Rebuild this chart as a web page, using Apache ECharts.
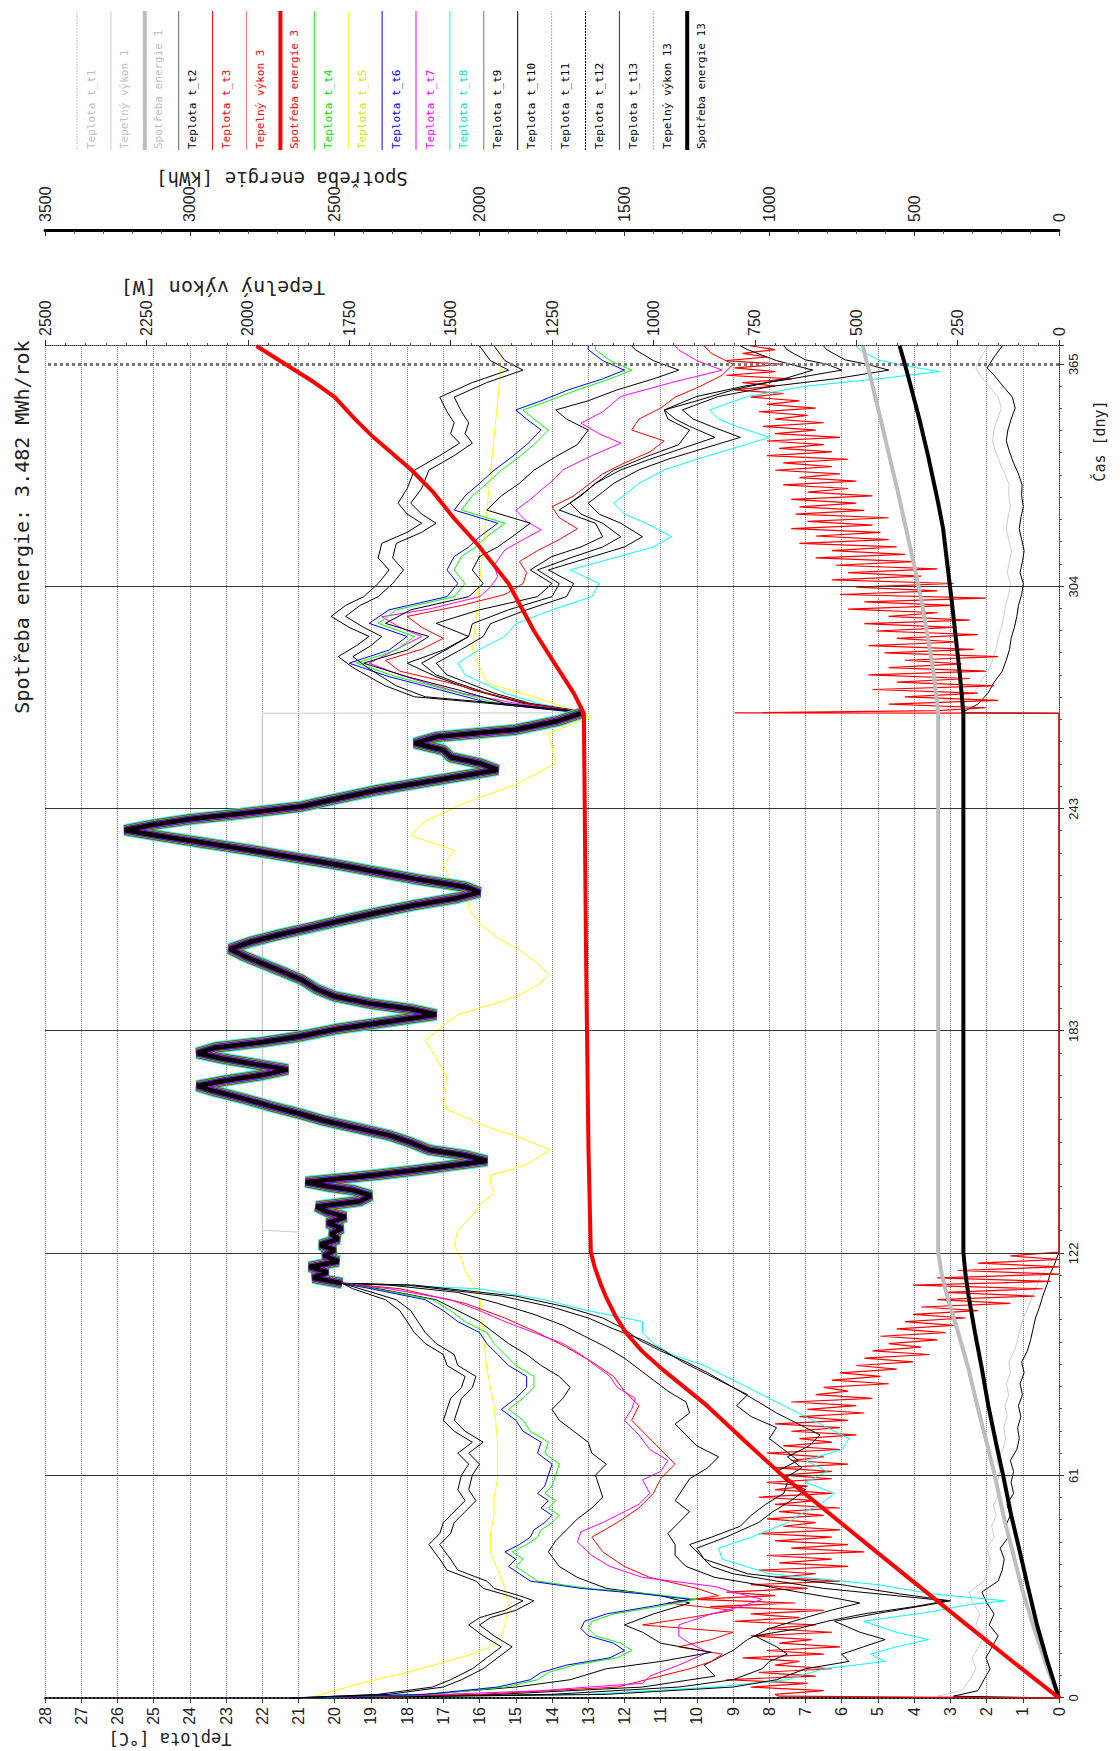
<!DOCTYPE html>
<html><head><meta charset="utf-8">
<script src="https://cdn.jsdelivr.net/npm/echarts@6/dist/echarts.min.js"></script>
<style>
html,body{margin:0;padding:0;background:#fff;overflow:hidden;width:1120px;height:1751px;}
#chart{position:absolute;left:0;top:0;width:1751px;height:1120px;transform-origin:0 0;transform:translate(0,1751px) rotate(-90deg);background:#fff;}
</style></head><body><div id="chart"></div>
<script>
// ---------------- DATA (day, value) ----------------
const timeTickLabels = ['0','61','122','183','243','304','365'];
const tempTicks = [0,28];
const powerRange = [0,2500];
const energyRange = [0,3500];
const titleText = 'Spotřeba energie: 3.482 MWh/rok';

// common summer course of all node temperatures (°C)
const summerBand = [[113.5,19.8],[115,20.6],[116.5,20.2],[118,20.7],[119.5,19.9],[121,20.3],[122.6,20.0],[124,20.4],[125.6,19.9],[127,20.1],[128.5,19.8],[130,20.2],[131.7,19.7],[133,20.2],[134.5,20.5],[136,19.3],[137.5,19.0],[139,19.5],[140,20.2],[141.2,20.8],[142.2,19.8],[143.2,18.8],[144.5,17.7],[145.7,16.8],[147,15.8],[148.5,16.4],[150,17.4],[152,17.9],[154,18.5],[156,19.4],[158,20.3],[160,21.0],[162,21.8],[164,22.5],[166,23.3],[167.5,23.8],[169,23.0],[170.5,22.0],[172,21.3],[173.5,22.2],[175,23.1],[176.5,23.8],[178,23.3],[179.5,22.0],[181,21.0],[183,20.0],[185,18.6],[187,17.2],[188.5,17.9],[190,19.0],[192,20.0],[194,20.5],[196.5,20.9],[199,21.5],[201,22.0],[203,22.5],[205,22.9],[207,22.3],[209,21.5],[211,20.6],[213,19.7],[215,18.8],[217,17.8],[219,16.6],[220.5,16.0],[222,16.4],[224,17.7],[226,18.8],[228,19.9],[230,21.1],[232,22.3],[234,23.6],[236,24.9],[237.5,25.8],[239,25.0],[240.5,24.0],[242,22.6],[244,20.9],[246,20.0],[248.5,18.8],[250.5,17.6],[252.5,16.4],[254,15.5],[255.8,16.0],[257.5,16.8],[259.4,17.0],[261.3,17.8],[263,17.2],[265,15.0],[267.5,13.8],[269.5,13.2]];

const t2Winter = [[0,21.2],[1,18.8],[3,17.3],[5,16.8],[8,16.2],[11,15.8],[14,15.4],[17,15.9],[20,16.3],[22,16.0],[24,15.3],[26.6,14.8],[28,15.2],[30,15.9],[32,16.1],[35,16.9],[38,17.1],[42,17.4],[45,17.1],[48,17.0],[51,16.7],[54,16.4],[57,16.6],[61,16.5],[64,16.3],[67,16.6],[70,16.2],[73,16.7],[76,17.0],[79,16.9],[82,16.8],[85,16.5],[88,16.4],[91,16.9],[94,17.0],[97,17.5],[100,17.8],[103,18.0],[106,18.2],[109,18.6],[112,19.5]];
const t2Autumn = [[270,13.4],[272,15.5],[274,17.8],[277,18.6],[279.5,19.05],[282,19.5],[285,19.9],[288,19.4],[290.5,19.05],[293,19.6],[296,20.1],[299,19.7],[301.4,19.2],[305,18.8],[308.7,18.5],[312,18.8],[316,18.7],[319,18.0],[321.5,17.6],[324,18.0],[327,18.25],[331,18.0],[336,17.8],[340,17.1],[343.4,16.55],[346,16.8],[349,16.7],[352,16.9],[356,17.1],[360,16.2],[363.4,15.2],[366,15.7],[370,16.0]];

const t9Winter = [[0,21.2],[1,18.5],[3,17.0],[5,16.5],[8,15.9],[11,15.5],[14,15.1],[17,15.6],[20,16.0],[22,15.7],[24,15.0],[26.6,14.5],[28,14.9],[30,15.6],[32,15.8],[35,16.6],[38,16.8],[42,17.1],[45,16.8],[48,16.7],[51,16.4],[54,16.1],[57,16.3],[61,16.2],[64,16.0],[67,16.3],[70,15.9],[73,16.4],[76,16.7],[79,16.6],[82,16.5],[85,16.2],[88,16.1],[91,16.6],[94,16.7],[97,17.2],[100,17.5],[103,17.7],[106,17.9],[109,18.3],[112,19.3]];
const t9Autumn = [[270,13.3],[272,15.2],[274,17.5],[277,18.3],[279.5,18.7],[282,19.1],[285,19.5],[288,19.0],[290.5,18.7],[293,19.2],[296,19.7],[299,19.3],[301.4,18.8],[305,18.4],[308.7,18.1],[312,18.4],[316,18.3],[319,17.6],[321.5,17.2],[324,17.6],[327,17.9],[331,17.6],[336,17.4],[340,16.7],[343.4,16.2],[346,16.4],[349,16.3],[352,16.5],[356,16.7],[360,15.8],[363.4,14.8],[366,15.3],[370,15.6]];

const t6Winter = [[0,21.0],[1,17.5],[3,15.5],[5,14.6],[7,14.3],[9,13.6],[11,12.4],[13,12.0],[15,12.3],[17,13.0],[19,13.2],[21,13.1],[23,12.5],[25,11.3],[27,10.2],[28.5,11.5],[30,13.2],[32,14.6],[34,14.9],[36,15.2],[38,15.0],[40,15.3],[42,14.9],[44,14.6],[46,14.5],[48,14.2],[50,14.0],[52,14.3],[54,14.1],[56,14.4],[58,14.2],[61,14.1],[64,14.0],[67,14.4],[70,14.3],[73,14.8],[76,15.0],[79,15.4],[82,15.0],[85,14.7],[88,14.7],[91,15.2],[94,15.5],[97,15.8],[100,16.0],[103,16.6],[106,17.0],[109,17.5],[112,19.0]];
const t6Autumn = [[270,13.6],[272.2,15.7],[275.9,17.1],[279.5,18.5],[283.2,19.6],[286.8,18.5],[290.5,18.0],[294.1,19.05],[297.8,18.5],[301.4,16.9],[305,16.6],[308.7,16.9],[312.4,16.7],[315,16.3],[317.8,16.0],[321.5,15.5],[325.1,16.7],[329,16.4],[332.4,16.0],[336,15.6],[339.7,15.1],[343,14.7],[347,14.3],[350,14.7],[352.5,15.0],[355,14.3],[358,13.55],[361,12.6],[363.4,12.0],[366,12.6],[369,13.0],[370,13.0]];

const t4Winter = [[0,21.0],[1,17.3],[3,15.3],[5,14.4],[7,14.1],[9,13.4],[11,12.2],[13,11.8],[15,12.1],[17,12.8],[19,13.0],[21,12.9],[23,12.3],[25,11.1],[27,10.0],[28.5,11.3],[30,13.0],[32,14.4],[34,14.7],[36,15.0],[38,14.8],[40,15.1],[42,14.7],[44,14.4],[46,14.3],[48,14.0],[50,13.8],[52,14.1],[54,13.9],[56,14.2],[58,14.0],[61,13.9],[64,13.8],[67,14.2],[70,14.1],[73,14.6],[76,14.8],[79,15.2],[82,14.8],[85,14.5],[88,14.5],[91,15.0],[94,15.3],[97,15.6],[100,15.8],[103,16.4],[106,16.8],[109,17.3],[112,18.9]];
const t4Autumn = [[270,13.5],[272.2,15.5],[275.9,16.9],[279.5,18.3],[283.2,19.4],[286.8,18.3],[290.5,17.8],[294.1,18.8],[297.8,18.3],[301.4,16.7],[305,16.4],[308.7,16.7],[312.4,16.5],[315,16.1],[317.8,15.8],[321.5,15.3],[325.1,16.5],[329,16.2],[332.4,15.8],[336,15.4],[339.7,14.9],[343,14.5],[347,14.1],[350,14.5],[352.5,14.8],[355,14.1],[358,13.3],[361,12.4],[363.4,11.8],[366,12.4],[369,12.8],[370,12.8]];

const t7Winter = [[0,21.0],[1,17.0],[2,14.3],[3,13.0],[4,11.5],[6,11.3],[9,10.5],[12.5,9.7],[15,10.2],[17,10.5],[20,10.5],[23,9.6],[25,8.8],[27,8.2],[29,9.0],[30.5,9.5],[33,11.5],[36,12.4],[39,12.9],[42.7,13.3],[45.5,13.2],[48,12.6],[51,12.0],[53,11.6],[56,11.3],[59.7,11.5],[62,11.0],[65,10.8],[68,11.3],[72,11.6],[76,12.0],[79,11.8],[82,11.7],[85,12.2],[88,12.4],[91,12.8],[94,13.2],[97,13.7],[100,14.5],[103,15.3],[106,16.0],[109,16.8],[112,18.5]];
const t7Autumn = [[270,13.4],[272.2,15.0],[275,16.5],[277.7,17.45],[280,18.2],[283.2,19.05],[287,18.3],[290.5,17.6],[293,18.2],[295.9,18.7],[298,17.4],[301.4,16.0],[304,15.7],[306.9,15.5],[310,15.6],[314.2,15.3],[317,14.8],[319.7,14.3],[322,14.7],[325.1,15.0],[328,14.6],[330.6,14.3],[333,14.0],[336.1,13.7],[340,12.9],[343.4,12.1],[346,12.7],[348.9,13.2],[352,12.6],[356.2,12.1],[360,10.7],[363.4,9.3],[366,10.0],[368.9,10.5],[370,10.6]];

const t10Winter = [[0,21.0],[1,17.5],[3,15.0],[5,13.5],[8,12.5],[10,11.0],[12.5,9.6],[15,11.0],[18,11.5],[20,12.0],[23,11.2],[26,10.2],[28,11.0],[30,12.5],[33,13.3],[36,13.8],[40,14.1],[43,13.9],[46,13.6],[49,13.3],[52,12.9],[55,12.6],[58,12.7],[61,12.8],[64,12.5],[67,12.9],[70,13.0],[73,13.4],[76,13.8],[79,14.0],[82,13.7],[85,13.5],[88,13.8],[91,14.3],[94,14.7],[97,15.2],[100,15.6],[103,16.0],[106,16.6],[109,17.2],[112,18.8]];
const t10Autumn = [[270,13.4],[272.2,15.3],[275.9,16.6],[279.5,18.0],[283.2,19.2],[286.8,18.0],[290.5,17.4],[294.1,18.6],[297.8,17.9],[301.4,16.3],[305,15.9],[308.7,16.2],[312.4,16.0],[315,15.5],[317.8,15.1],[321.5,14.6],[325.1,15.8],[329,15.4],[332.4,14.9],[336,14.5],[339.7,13.9],[343,13.3],[347,13.0],[350,13.6],[352.5,13.9],[355,13.0],[358,12.2],[361,11.2],[363.4,10.5],[366,11.2],[369,11.7],[370,11.8]];

const t3Winter = [[0,21],[1,16],[3,12.2],[6,11.0],[8,10.2],[10,9.6],[12,9.3],[14,10.5],[16,9.6],[18,9.0],[20,11.5],[22,10.2],[24,9.0],[26,10.8],[28,9.4],[30,10.0],[33,11.3],[36,12.0],[40,12.6],[44,12.9],[48,12.2],[52,11.6],[56,11.2],[60,11.0],[64,10.6],[68,11.0],[72,11.4],[76,11.8],[80,11.6],[84,12.0],[88,12.3],[92,12.9],[96,13.6],[100,14.4],[104,15.3],[108,16.4],[112,18.2]];
const t3Autumn = [[270,13.2],[272,14.6],[275,15.8],[278,16.9],[281,18.2],[284,18.6],[287,17.6],[290,17.0],[293,17.6],[296,18.0],[299,16.5],[302,15.3],[305,14.8],[308,14.7],[311,14.9],[314,14.4],[317,13.8],[320,13.3],[323,13.8],[326,14.0],[329,13.4],[332,13.0],[335,12.6],[338,12.0],[341,11.3],[344,10.9],[347,11.8],[350,11.6],[353,11.0],[356,10.6],[359,9.9],[362,9.3],[365,9.0],[368,9.6],[370,9.8]];

const t11Winter = [[0,21],[1,15.5],[3,11.5],[6,9.5],[9,9.8],[11,9.4],[13,9.0],[16,8.6],[19,8.0],[22,7.0],[24,6.3],[26,5.5],[27,6.0],[29,7.2],[31,8.3],[33,9.5],[36,10.3],[39,10.6],[42,10.6],[45,10.8],[48,10.5],[51,10.2],[54,10.6],[57,10.4],[60,10.2],[63,9.7],[66,9.4],[69,10.0],[72,10.3],[75,10.6],[78,10.2],[81,10.3],[84,10.8],[87,11.2],[90,11.6],[93,12.0],[96,12.5],[99,13.1],[102,13.7],[105,14.5],[108,15.5],[111,16.6],[113,18.5]];
const t11Autumn = [[270,13.3],[272.2,14.8],[275.9,16.2],[279.5,17.2],[283.2,18.0],[286.8,17.0],[290.5,16.3],[294.1,17.2],[297.8,16.0],[301.4,14.4],[305,14.0],[308.7,14.6],[312.4,14.0],[315,13.2],[317.8,12.6],[321.5,12.8],[325.1,13.8],[329,13.2],[332.4,12.8],[336,12.3],[339.7,11.4],[343,10.5],[347,10.2],[350,10.8],[352.5,10.9],[355,10.0],[358,9.0],[361,7.6],[363.4,6.8],[366,7.8],[369,8.6],[370,8.8]];

const t12Winter = [[0,21],[1,14],[3,10.5],[5,9.0],[8,8.2],[10,8.0],[12,7.5],[14,7.8],[17,8.4],[19,7.2],[21,6.4],[23,5.4],[25,4.0],[26.6,3.1],[28,4.5],[30,6.5],[32,7.8],[34,9.0],[36,9.6],[39,9.9],[42,10.2],[44,9.6],[47,8.8],[50,8.5],[53,8.1],[56,7.6],[59,7.5],[62,7.8],[65,7.2],[68,7.6],[71,8.0],[74,7.8],[77,8.5],[80,8.9],[83,8.6],[86,9.2],[89,9.8],[92,10.4],[95,10.9],[98,11.5],[101,12.3],[104,13.0],[107,14.0],[110,15.4],[113,18.0]];
const t12Autumn = [[270,13.2],[272.2,14.6],[275,15.6],[277.7,16.3],[280,16.9],[283.2,17.2],[287,16.5],[290.5,15.9],[294,15.7],[297.8,14.7],[301.4,13.6],[305,13.4],[308.7,14.1],[312,13.0],[315,12.0],[317.8,11.5],[321.5,12.1],[324,12.7],[327,13.0],[330,12.6],[332.4,12.3],[336.1,11.6],[339,10.8],[342,9.8],[345,8.8],[348,9.6],[350,10.1],[352.5,10.4],[356.2,9.4],[359,7.9],[361,6.2],[363.4,4.7],[365,5.3],[366.2,5.9],[368.9,6.4],[370,6.5]];

const t13Winter = [[0,21],[1,12.5],[3,9.0],[5,7.8],[8,7.0],[10,5.8],[12,6.0],[14,5.4],[16,4.8],[18,5.5],[21,6.2],[23.5,4.8],[25.5,3.6],[26.6,3.0],[28.5,4.4],[31,6.0],[34,8.6],[38,9.8],[41,10.0],[44,9.2],[48,8.3],[51,7.9],[54,7.4],[57,7.0],[60,7.6],[63,7.1],[66,7.5],[69,6.9],[72,6.6],[75,7.2],[78,7.8],[81,8.3],[85,9.0],[89,9.7],[92,10.3],[95,11.0],[98,11.6],[101,12.0],[104,12.6],[107,13.6],[110,15.0],[113,17.8]];
const t13Autumn = [[270,13.2],[272.2,14.7],[275,15.8],[277.7,16.6],[280,17.2],[283.2,17.6],[287,16.9],[290.5,16.3],[294,16.2],[297.8,15.2],[301.4,14.0],[305,13.8],[308.7,14.4],[312,13.5],[315,12.6],[317.8,12.1],[321.5,12.6],[324,13.2],[327,13.5],[330,13.1],[332.4,12.8],[336.1,12.1],[339,11.3],[342,10.4],[345,9.5],[348,10.2],[350,10.6],[352.5,10.9],[356.2,10.0],[359,8.7],[361,7.4],[363.4,6.0],[365,6.4],[366.2,7.0],[368.9,7.5],[370,7.6]];

const t8Winter = [[0,21],[1,13],[3,9.5],[5,7.5],[8,6.5],[10,4.8],[12,5.2],[14,4.5],[16,3.6],[18,4.5],[21,5.4],[23.5,3.6],[25.5,2.5],[26.6,1.5],[28.5,3.5],[31,5.0],[34,8.0],[38,9.3],[41,9.4],[44,8.5],[48,7.5],[50,7.2],[53,6.6],[56,6.2],[59,7.0],[62,6.4],[65,7.0],[68,6.0],[71,5.8],[74,6.4],[77,7.0],[80,7.6],[84,8.4],[88,9.2],[91,9.8],[94,10.7],[97,11.2],[100,11.5],[103,11.5],[106,13.0],[109,14.2],[112,16.0]];
const t8Autumn = [[270,13.2],[272.2,14.4],[275,15.3],[277.7,15.9],[280,16.4],[283.2,16.6],[287,16.0],[290.5,15.3],[294,15.0],[297.8,14.0],[301.4,12.9],[305,12.7],[308.7,13.5],[312,12.3],[315,11.2],[317.8,10.7],[321.5,11.4],[324,12.0],[327,12.3],[330,11.9],[332.4,11.6],[336.1,10.9],[339,10.0],[342,9.0],[345,8.0],[348,8.9],[350,9.4],[352.5,9.65],[356.2,8.6],[359,7.0],[361,5.0],[363,3.3],[364.5,4.2],[366.2,5.0],[368.9,5.5],[370,5.6]];

const t5Winter = [[0,20.7],[2,20.0],[4,19.3],[7,18.0],[10,16.9],[12,16.2],[14,15.7],[17,15.4],[20,15.3],[25,15.2],[30,15.3],[35,15.5],[40,15.7],[45,15.7],[50,15.6],[55,15.6],[60,15.5],[70,15.5],[80,15.6],[90,15.8],[100,15.9],[110,16.0]];
const t5Summer = [[113.5,16.2],[117,16.4],[120,16.5],[124,16.7],[128,16.6],[132,16.2],[135,16.0],[138,15.6],[141,15.7],[143,15.7],[146,14.7],[150,14.05],[153,14.8],[156,15.7],[161,16.9],[165,17.0],[170,16.9],[175,17.2],[180,17.5],[184,17.0],[187,16.6],[190,15.6],[192,15.0],[195,14.4],[198,14.1],[201,14.4],[204,14.8],[208,15.5],[212,16.0],[216,16.3],[220,16.3],[224,16.8],[228,17.0],[232,16.7],[236,17.9],[240,17.5],[245,16.4],[250,15.0],[255.8,13.9],[260,14.0],[264,14.1],[268.6,12.9]];
const t5Autumn = [[273,14.2],[277.7,15.8],[286.8,16.2],[295,16.1],[305,16.0],[315,15.9],[325,15.8],[335,15.7],[345,15.6],[355,15.5],[365,15.4],[370,15.4]];

const t1Summer = [[127.5,21.0],[128,22.0],[269.5,22.0],[269.6,13.4]];

// heating power (W)
const power1 = [[0,0],[0.5,300],[2,240],[5,220],[8,205],[11,214],[14,198],[17,185],[20,205],[23,195],[26,212],[29,222],[32,185],[35,176],[38,170],[41,178],[44,160],[47,166],[50,155],[53,162],[56,146],[59,152],[62,146],[65,153],[68,138],[71,132],[74,136],[77,128],[80,133],[83,124],[86,130],[89,120],[92,124],[95,110],[98,102],[101,95],[104,88],[107,76],[110,66],[113,54],[116,42],[119,24],[122,0],[269.5,0],[269.6,280],[272,236],[275,210],[278,194],[281,175],[284,164],[287,156],[290,150],[293,142],[296,136],[299,132],[302,124],[305,120],[308,128],[311,122],[314,117],[317,124],[320,130],[323,126],[326,120],[329,124],[332,123],[335,133],[338,146],[341,156],[344,164],[347,160],[350,152],[353,142],[356,150],[359,172],[362,195],[364,205],[367,192],[370,175]];
const power13 = [[0,0],[0.5,260],[2,200],[5,185],[8,170],[11,180],[14,165],[17,150],[20,172],[23,160],[26,178],[29,190],[32,150],[35,140],[38,135],[41,145],[44,125],[47,132],[50,120],[53,128],[56,112],[59,118],[62,112],[65,120],[68,104],[71,98],[74,102],[77,94],[80,100],[83,90],[86,96],[89,86],[92,92],[95,78],[98,70],[101,64],[104,58],[107,48],[110,40],[113,30],[116,22],[119,10],[122,0],[269.5,0],[269.6,240],[272,200],[275,175],[278,160],[281,140],[284,130],[287,122],[290,118],[293,110],[296,104],[299,100],[302,92],[305,88],[308,96],[311,90],[314,86],[317,92],[320,98],[323,94],[326,88],[329,92],[332,91],[335,100],[338,112],[341,122],[344,130],[347,126],[350,118],[353,108],[356,115],[359,138],[362,160],[364,177],[367,160],[370,140]];
// power 3, one reading per day: days 1..122 and 271..370
const power3WinterDaily = [700,580,760,620,820,600,740,560,700,640,780,580,720,540,690,610,760,560,720,600,800,640,760,580,860,650,900,700,820,620,760,540,700,600,740,520,690,560,720,480,660,520,700,560,740,540,680,600,720,580,690,540,700,600,740,560,700,620,720,560,680,560,700,520,660,580,720,540,680,560,640,500,660,540,700,520,640,480,620,500,660,460,600,520,580,420,560,440,540,400,500,360,480,320,460,340,420,300,440,280,400,260,380,230,360,200,340,120,300,60,280,40,360,20,300,0,250,0,200,0,120,0];
const power3AutumnDaily = [180,420,150,380,200,460,160,400,220,470,180,420,240,380,150,430,210,470,250,400,200,450,260,480,220,420,300,520,260,480,180,540,300,500,260,560,340,520,300,550,360,600,380,560,400,640,420,600,440,660,460,620,420,650,480,640,500,660,460,620,520,680,500,640,540,700,560,680,520,720,560,690,580,720,540,700,600,730,580,700,620,740,600,720,640,760,680,800,700,780,660,820,700,800,680,820,720,780,700,760];

// cumulative energy (kWh)
const energy1 = [[0,0],[5,25],[10,48],[20,90],[30,128],[40,160],[50,192],[61,222],[70,250],[80,282],[90,312],[100,348],[110,386],[116,405],[122,417],[269.5,417],[280,432],[290,452],[300,474],[310,500],[320,528],[330,556],[340,586],[350,616],[360,646],[365,662],[370,677]];
const energy3 = [[0,0],[10,160],[20,318],[30,474],[40,630],[50,785],[61,956],[70,1080],[80,1215],[90,1370],[95,1440],[100,1495],[104.4,1530],[110,1565],[113.5,1583],[118,1603],[122,1616],[150,1624],[200,1632],[269.5,1640],[275,1675],[283,1740],[292,1812],[305,1900],[316,2010],[323,2090],[330,2160],[336,2234],[345,2366],[350,2430],[356,2500],[360,2570],[365,2670],[370,2770]];
const energy13 = [[0,0],[5,20],[10,40],[20,76],[30,106],[40,135],[50,165],[61,193],[70,218],[80,244],[90,266],[100,290],[110,312],[116,323],[122,330],[269.5,330],[280,342],[290,356],[300,370],[310,385],[320,400],[327,417],[330,425],[340,452],[350,482],[360,515],[365,532],[370,550]];

const legendNames = ['Teplota t_t1','Tepelný výkon 1','Spotřeba energie 1','Teplota t_t2','Teplota t_t3','Tepelný výkon 3','Spotřeba energie 3','Teplota t_t4','Teplota t_t5','Teplota t_t6','Teplota t_t7','Teplota t_t8','Teplota t_t9','Teplota t_t10','Teplota t_t11','Teplota t_t12','Teplota t_t13','Tepelný výkon 13','Spotřeba energie 13'];

// ---------------- BUILD ----------------
const join = (w, a) => w.concat(summerBand, a);
const power3 = [[0,0],[0.5,690]].concat(power3WinterDaily.map((v,i)=>[i+1,v]), [[269.5,0],[269.6,800],[270.2,300]], power3AutumnDaily.map((v,i)=>[271+i,v]));

const STY = {
 'Teplota t_t1':{c:'#c8c8c8',w:1,t:'#bdbdbd',d:[2,1]},
 'Tepelný výkon 1':{c:'#cdcdcd',w:1,t:'#c0c0c0'},
 'Spotřeba energie 1':{c:'#bdbdbd',w:4,t:'#bdbdbd'},
 'Teplota t_t2':{c:'#000',w:1,t:'#000',lc:'#666'},
 'Teplota t_t3':{c:'#ff0000',w:1,t:'#ff0000'},
 'Tepelný výkon 3':{c:'#ff0000',w:1,t:'#ff0000',lc:'#ff8080'},
 'Spotřeba energie 3':{c:'#ff0000',w:4,t:'#ff0000'},
 'Teplota t_t4':{c:'#00ff00',w:1,t:'#00dd00'},
 'Teplota t_t5':{c:'#ffff00',w:1,t:'#e0e000'},
 'Teplota t_t6':{c:'#0000ff',w:1,t:'#0000ff'},
 'Teplota t_t7':{c:'#ff00ff',w:1,t:'#ff00ff'},
 'Teplota t_t8':{c:'#00ffff',w:1,t:'#00dede'},
 'Teplota t_t9':{c:'#000',w:1,t:'#000',lc:'#777'},
 'Teplota t_t10':{c:'#000',w:1,t:'#000'},
 'Teplota t_t11':{c:'#000',w:1,t:'#000',lc:'#aaa',d:[2,1]},
 'Teplota t_t12':{c:'#000',w:1,t:'#000',d:[2,1]},
 'Teplota t_t13':{c:'#000',w:1,t:'#000',lc:'#333'},
 'Tepelný výkon 13':{c:'#000',w:1,t:'#000',lc:'#aaa',d:[2,1]},
 'Spotřeba energie 13':{c:'#000',w:4,t:'#000'}
};

function line(name, data, yIdx, z, widthOverride){
  const s = STY[name] || {};
  return {type:'line', name, data, xAxisIndex:0, yAxisIndex:yIdx, showSymbol:false, symbol:'none', silent:true, animation:false, z:z,
    lineStyle:{color:s.c, width: widthOverride || s.w}, itemStyle:{color:s.c}, emphasis:{disabled:true}};
}

const series = [];
const TIME_STEP = 365/6;
const gridDays = [1,2,3,4,5].map(k=>k*TIME_STEP);
series.push({type:'line', data:[], xAxisIndex:0, yAxisIndex:0, silent:true, z:1,
  markLine:{silent:true, symbol:['none','none'], label:{show:false}, animation:false,
    data: gridDays.map(d=>({xAxis:d, lineStyle:{color:'#333', width:1, type:'solid'}})).concat([{xAxis:6*TIME_STEP, lineStyle:{color:'#777', width:3, type:'dotted'}}])}});

series.push(line('Teplota t_t5', t5Winter.concat(t5Summer, t5Autumn), 0, 3));
series.push(line('Teplota t_t1', t1Summer, 0, 3));
series.push(line('Tepelný výkon 1', power1, 1, 3));
series.push(line('Tepelný výkon 13', power13, 1, 3));
series.push(line('Tepelný výkon 3', power3, 1, 3, 1.2));
series.push(line('Teplota t_t8', join(t8Winter, t8Autumn), 0, 4));
series.push(line('Teplota t_t13', join(t13Winter, t13Autumn), 0, 4));
series.push(line('Teplota t_t12', join(t12Winter, t12Autumn), 0, 4));
series.push(line('Teplota t_t11', join(t11Winter, t11Autumn), 0, 4));
series.push(line('Teplota t_t3', join(t3Winter, t3Autumn), 0, 4));
series.push(line('Teplota t_t7', join(t7Winter, t7Autumn), 0, 4));
series.push(line('Teplota t_t10', join(t10Winter, t10Autumn), 0, 4));
series.push(line('Teplota t_t4', join(t4Winter, t4Autumn), 0, 4));
series.push(line('Teplota t_t6', join(t6Winter, t6Autumn), 0, 4));
series.push(line('Teplota t_t9', join(t9Winter, t9Autumn), 0, 4));
series.push(line('Teplota t_t2', join(t2Winter, t2Autumn), 0, 4));
// overlapping summer course of the node temperatures (stacked widths show the coloured fringes)
[['Teplota t_t8',12],['Teplota t_t3',10],['Teplota t_t4',8.5],['Teplota t_t6',7],['Teplota t_t7',6],['Teplota t_t2',4.8]].forEach(([n,w])=>{
  series.push(line(n, summerBand, 0, 5, w));
});
series.push(line('Spotřeba energie 1', energy1, 2, 6));
series.push(line('Spotřeba energie 13', energy13, 2, 6));
series.push(line('Spotřeba energie 3', energy3, 2, 7));

// ---------------- LAYOUT (original orientation, page is rotated) ----------------
const W = 1751, H = 1120;
const G = {left:53, right:346, top:45, bottom:61};
const FONT = '"Liberation Sans", Arial, sans-serif';
const MONO = '"DejaVu Sans Mono", monospace';
const graphic = [];
const txt = (text, x, y, font, rot, align) => ({type:'text', x, y, rotation:rot||0, silent:true,
  style:{text, font, fill:'#222', align:align||'center', verticalAlign:'middle', textAlign:align||'center', textVerticalAlign:'middle'}});
graphic.push(txt(titleText, 1224, 22, '20px '+MONO));
graphic.push(txt('Tepelný výkon [W]', 1463, 223, '20px '+MONO, Math.PI/2));
graphic.push(txt('Spotřeba energie [kWh]', 1572, 282, '19px '+MONO, Math.PI/2));
graphic.push(txt('Teplota [°C]', 12, 170, '17px '+MONO, Math.PI/2));
graphic.push(txt('Čas [dny]', 1310, 1100, '15px '+MONO));
legendNames.forEach((n,i)=>{
  const s = STY[n]; const v = 77 + 33.9*i;
  graphic.push({type:'line', silent:true, shape:{x1:1601,y1:v,x2:1740,y2:v}, style:{stroke:s.lc||s.c, lineWidth:s.w, lineDash:s.d||null}});
  graphic.push({type:'text', x:1602, y:v+14, silent:true, style:{text:n, font:'11px '+MONO, fill:s.t, align:'left', verticalAlign:'middle', textAlign:'left', textVerticalAlign:'middle'}});
});

const plain = v => String(Math.round(v));
const chart = echarts.init(document.getElementById('chart'), null, {renderer:'svg', width:W, height:H});
chart.setOption({
  animation:false,
  backgroundColor:'#fff',
  grid:G,
  xAxis:{type:'value', min:0, max:370, interval:TIME_STEP,
    axisLine:{show:true, onZero:false, lineStyle:{color:'#333', width:1, type:'dotted'}},
    axisTick:{show:true, length:5, lineStyle:{color:'#333'}},
    minorTick:{show:true, splitNumber:10, length:3, lineStyle:{color:'#555'}},
    axisLabel:{fontSize:13, fontFamily:FONT, color:'#222', margin:8, showMaxLabel:true,
      formatter:v=>{ const k=Math.round(v/TIME_STEP); return (Math.abs(v-k*TIME_STEP)<0.01 && k<timeTickLabels.length)? timeTickLabels[k] : ''; }},
    splitLine:{show:false}},
  yAxis:[
    {type:'value', min:tempTicks[0], max:tempTicks[1], interval:1, position:'left',
      axisLine:{show:true, onZero:false, lineStyle:{color:'#111', width:2, type:'dotted'}},
      axisTick:{show:true, length:5, lineStyle:{color:'#333'}},
      axisLabel:{fontSize:16, fontFamily:FONT, color:'#222', margin:9, formatter:plain},
      splitLine:{show:true, lineStyle:{color:'#8a8a8a', width:1, type:'dotted'}}},
    {type:'value', min:powerRange[0], max:powerRange[1], interval:250, position:'right', offset:0,
      axisLine:{show:true, onZero:false, lineStyle:{color:'#333', width:1, type:'dotted'}},
      axisTick:{show:true, length:6, lineStyle:{color:'#333'}},
      minorTick:{show:true, splitNumber:5, length:3, lineStyle:{color:'#555'}},
      axisLabel:{fontSize:16, fontFamily:FONT, color:'#222', margin:10, formatter:plain},
      splitLine:{show:false}},
    {type:'value', min:energyRange[0], max:energyRange[1], interval:500, position:'right', offset:115,
      axisLine:{show:true, onZero:false, lineStyle:{color:'#000', width:3}},
      axisTick:{show:true, inside:true, length:5, lineStyle:{color:'#333'}},
      minorTick:{show:true, splitNumber:5, length:3, lineStyle:{color:'#555'}},
      axisLabel:{fontSize:16, fontFamily:FONT, color:'#222', margin:9, formatter:plain},
      splitLine:{show:false}}
  ],
  series,
  graphic:{elements:graphic}
});
</script></body></html>
